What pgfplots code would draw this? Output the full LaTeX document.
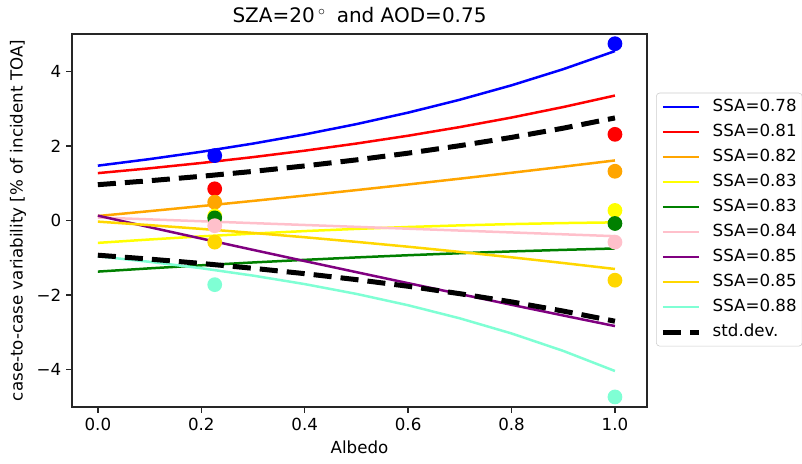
\documentclass[border=0pt]{standalone}
\usepackage{fontspec}
\setmainfont{DejaVu Sans}
\usepackage{pgfplots}
\usepackage{pgfplotstable}
\pgfplotsset{compat=1.18}

\definecolor{cBlue}{RGB}{0,0,255}
\definecolor{cRed}{RGB}{255,0,0}
\definecolor{cOrange}{RGB}{255,165,0}
\definecolor{cYellow}{RGB}{255,255,0}
\definecolor{cGreen}{RGB}{0,128,0}
\definecolor{cPink}{RGB}{255,192,203}
\definecolor{cPurple}{RGB}{128,0,128}
\definecolor{cGold}{RGB}{255,215,0}
\definecolor{cAqua}{RGB}{127,255,212}

% fitted curves versus albedo, one column per SSA, plus the two std.dev. envelopes
\pgfplotstableread{
x    blue  red   orange yellow green  pink   purple gold   aqua   sdup  sdlo
0.0  1.470 1.270 0.120 -0.600 -1.370  0.080  0.130 -0.030 -0.960 0.960 -0.930
0.1  1.646 1.399 0.251 -0.509 -1.283  0.030 -0.179 -0.124 -1.108 1.066 -1.035
0.2  1.842 1.542 0.386 -0.426 -1.201 -0.020 -0.484 -0.225 -1.279 1.185 -1.151
0.3  2.062 1.699 0.525 -0.351 -1.125 -0.070 -0.787 -0.333 -1.477 1.316 -1.281
0.4  2.308 1.872 0.668 -0.284 -1.055 -0.120 -1.088 -0.449 -1.705 1.463 -1.425
0.5  2.584 2.063 0.815 -0.225 -0.990 -0.170 -1.385 -0.573 -1.968 1.625 -1.585
0.6  2.892 2.273 0.966 -0.174 -0.931 -0.220 -1.680 -0.703 -2.272 1.805 -1.763
0.7  3.238 2.505 1.121 -0.131 -0.877 -0.270 -1.971 -0.841 -2.623 2.006 -1.962
0.8  3.624 2.760 1.280 -0.096 -0.829 -0.320 -2.260 -0.987 -3.028 2.228 -2.182
0.9  4.057 3.042 1.443 -0.069 -0.787 -0.370 -2.547 -1.140 -3.496 2.475 -2.428
1.0  4.542 3.350 1.610 -0.050 -0.750 -0.420 -2.830 -1.300 -4.035 2.750 -2.700
}\curves

% individual cases at the two sampled albedos
\pgfplotstableread{
x     blue red  orange yellow green pink  gold  aqua
0.226 1.74 0.85 0.49   0.12   0.07 -0.14 -0.58 -1.72
1.000 4.74 2.31 1.32   0.27  -0.08 -0.58 -1.60 -4.73
}\samples

\begin{document}
\begin{tikzpicture}
\path[use as bounding box] (-51.84pt,-41.04pt) rectangle (525.6pt,293.04pt);
\begin{axis}[
  scale only axis, width=414pt, height=268.56pt,
  xmin=-0.05, xmax=1.062, ymin=-5, ymax=5,
  xtick={0,0.2,0.4,0.6,0.8,1.0},
  xticklabels={0.0,0.2,0.4,0.6,0.8,1.0},
  ytick={-4,-2,0,2,4},
  yticklabels={−4,−2,0,2,4},
  tick align=outside, tick pos=left,
  major tick length=4.2pt,
  axis line style={black!85, line width=0.96pt},
  every tick/.style={black!85, line width=0.96pt},
  tick label style={font=\fontsize{12}{14}\selectfont},
  xlabel={Albedo},
  ylabel={case-to-case variability [\% of incident TOA]},
  every axis x label/.style={at={(axis description cs:0.5,-0.107)}, anchor=center,
    font=\fontsize{12}{14}\selectfont},
  every axis y label/.style={at={(axis description cs:-0.094,0.5)}, rotate=90, anchor=center,
    font=\fontsize{12}{14}\selectfont},
  title={SZA=20\,$^{\circ}$\hspace{0.55em}and AOD=0.75},
  every axis title/.style={at={(axis description cs:0.5,1.051)}, anchor=center, font=\fontsize{14.4}{17}\selectfont},
  legend cell align=left,
  legend image code/.code={\draw[#1] (0pt,0pt) -- (26pt,0pt);},
  legend style={at={(axis description cs:1.0157,0.8426)}, anchor=north west,
    draw=black!20, rounded corners=2.5pt, fill=white,
    font=\fontsize{12}{14.4}\selectfont,
    inner xsep=3pt, inner ysep=3.5pt, column sep=7pt, row sep=4.7pt,
    nodes={inner sep=1pt, text height=8.8pt, text depth=2.5pt}},
  every axis plot/.append style={line width=1.8pt},
]
\addplot[cBlue, mark=none] table[x=x,y=blue]{\curves};
\addlegendentry{SSA=0.78}
\addplot[cRed, mark=none] table[x=x,y=red]{\curves};
\addlegendentry{SSA=0.81}
\addplot[cOrange, mark=none] table[x=x,y=orange]{\curves};
\addlegendentry{SSA=0.82}
\addplot[cYellow, mark=none] table[x=x,y=yellow]{\curves};
\addlegendentry{SSA=0.83}
\addplot[cGreen, mark=none] table[x=x,y=green]{\curves};
\addlegendentry{SSA=0.83}
\addplot[cPink, mark=none] table[x=x,y=pink]{\curves};
\addlegendentry{SSA=0.84}
\addplot[cPurple, mark=none] table[x=x,y=purple]{\curves};
\addlegendentry{SSA=0.85}
\addplot[cGold, mark=none] table[x=x,y=gold]{\curves};
\addlegendentry{SSA=0.85}
\addplot[cAqua, mark=none] table[x=x,y=aqua]{\curves};
\addlegendentry{SSA=0.88}
\addplot[black, mark=none, line width=3.6pt, dash pattern=on 13pt off 6.5pt] table[x=x,y=sdup]{\curves};
\addlegendentry{std.dev.}
\addplot[black, mark=none, line width=3.6pt, dash pattern=on 13pt off 6.5pt, forget plot] table[x=x,y=sdlo]{\curves};

\addplot[only marks, mark=*, mark size=4.4pt, cBlue, forget plot] table[x=x,y=blue]{\samples};
\addplot[only marks, mark=*, mark size=4.4pt, cRed, forget plot] table[x=x,y=red]{\samples};
\addplot[only marks, mark=*, mark size=4.4pt, cOrange, forget plot] table[x=x,y=orange]{\samples};
\addplot[only marks, mark=*, mark size=4.4pt, cYellow, forget plot] table[x=x,y=yellow]{\samples};
\addplot[only marks, mark=*, mark size=4.4pt, cGreen, forget plot] table[x=x,y=green]{\samples};
\addplot[only marks, mark=*, mark size=4.4pt, cPink, forget plot] table[x=x,y=pink]{\samples};
\addplot[only marks, mark=*, mark size=4.4pt, cGold, forget plot] table[x=x,y=gold]{\samples};
\addplot[only marks, mark=*, mark size=4.4pt, cAqua, forget plot] table[x=x,y=aqua]{\samples};
\end{axis}
\end{tikzpicture}
\end{document}
